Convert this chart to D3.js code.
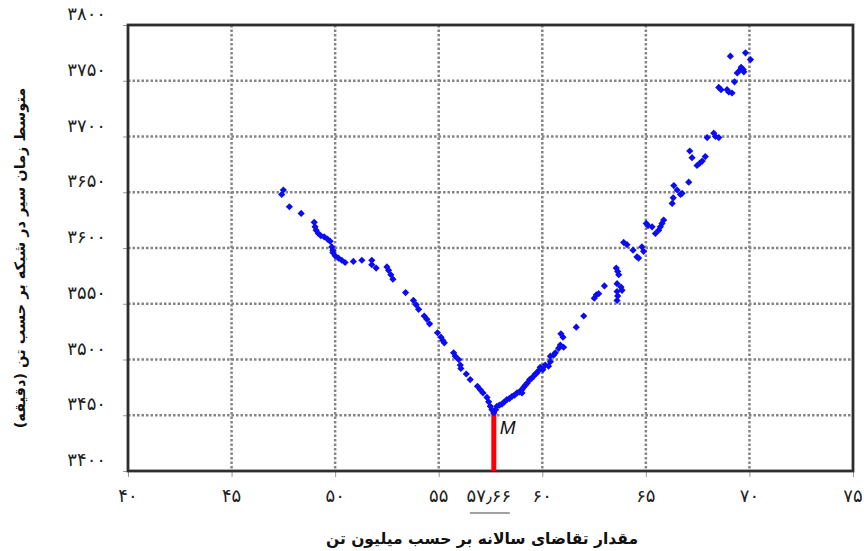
<!DOCTYPE html>
<html>
<head>
<meta charset="utf-8">
<script src="https://cdn.jsdelivr.net/npm/d3@7"></script>
<style>
  body { margin: 0; background: #fff; }
</style>
</head>
<body>
<svg id="chart"></svg>
<script>
// annual demand (million tons)
const demand = [
  47.42, 47.50, 47.79, 48.36, 48.99, 49.03, 49.08, 49.19, 49.31, 49.47, 49.63, 49.76, 49.84, 49.89, 49.89,
  50.00, 50.16, 50.32, 50.48, 50.88, 51.29, 51.77, 51.77, 51.98, 52.50, 52.58, 52.69, 52.79, 53.40, 53.78,
  53.91, 54.03, 54.30, 54.43, 54.56, 54.94, 55.11, 55.20, 55.27, 55.72, 55.80, 55.96, 56.04, 56.07, 56.33,
  56.52, 56.87, 57.00, 57.14, 57.33, 57.41, 57.49, 57.57, 57.66,
  57.75, 57.81, 57.93, 58.05, 58.17, 58.29, 58.41, 58.54, 58.66, 58.78, 58.90, 59.02, 59.02, 59.10, 59.18,
  59.28, 59.39, 59.48, 59.58, 59.66, 59.74, 59.82, 59.90, 60.03, 60.14, 60.30, 60.39, 60.39, 60.55, 60.63,
  60.79, 60.87, 61.03, 60.90, 61.00, 61.64, 62.00, 62.51, 62.61, 62.72, 63.00, 63.57, 63.64, 63.69, 63.61,
  63.61, 63.64, 63.61, 63.85, 63.80, 63.93, 64.09, 64.38, 64.57, 64.65, 64.81, 64.89, 65.02, 65.10, 65.30,
  65.46, 65.62, 65.78, 65.86, 65.70, 66.27, 66.32, 66.35, 66.51, 66.67, 66.75, 67.07, 67.12, 67.23, 67.47,
  67.60, 67.72, 67.87, 67.96, 68.28, 68.36, 68.52, 68.52, 68.63, 68.92, 69.00, 69.16, 69.28, 69.41, 69.57,
  69.60, 69.70, 69.73, 69.08, 69.81, 70.05
];
// mean travel time in network (minutes)
const travelTime = [
  3648, 3652, 3637, 3631, 3623, 3619, 3616, 3613, 3611, 3610, 3608, 3606, 3601, 3598, 3596,
  3593, 3591, 3589, 3587, 3588, 3589, 3589, 3585, 3582, 3583, 3580, 3576, 3572, 3560, 3553,
  3549, 3545, 3539, 3536, 3532, 3524, 3520, 3517, 3515, 3506, 3503, 3500, 3495, 3492, 3487,
  3482, 3476, 3473, 3470, 3466, 3462, 3458, 3455, 3452,
  3455, 3458, 3459, 3460, 3462, 3464, 3465, 3467, 3468, 3470, 3471, 3473, 3470, 3475, 3477,
  3479, 3482, 3483, 3485, 3487, 3488, 3490, 3493, 3491, 3495, 3494, 3498, 3503, 3504, 3506,
  3510, 3513, 3511, 3523, 3520, 3529, 3539, 3555, 3558, 3559, 3566, 3582, 3579, 3576, 3568,
  3561, 3557, 3553, 3562, 3565, 3605, 3603, 3598, 3592, 3591, 3601, 3597, 3622, 3620, 3619,
  3613, 3616, 3622, 3625, 3619, 3640, 3645, 3656, 3652, 3648, 3649, 3659, 3687, 3681, 3674,
  3676, 3678, 3682, 3699, 3703, 3700, 3699, 3744, 3742, 3742, 3740, 3739, 3749, 3757, 3760,
  3762, 3760, 3758, 3772, 3775, 3769
];

const xTicks = [40, 45, 50, 55, 60, 65, 70, 75];
const yTicks = [3400, 3450, 3500, 3550, 3600, 3650, 3700, 3750, 3800];
const optimum = { x: 57.66, y: 3452, label: "M", tickLabel: "۵۷٫۶۶" };
const xLabel = "مقدار تقاضای سالانه بر حسب میلیون تن";
const yLabel = "متوسط زمان سیر در شبکه بر حسب تن (دقیقه)";

const width = 864;
const height = 551;
const margin = { top: 25, right: 11, bottom: 80, left: 128 };
const chartWidth = width - margin.left - margin.right;
const chartHeight = height - margin.top - margin.bottom;

const fontFamily = "'DejaVu Sans', sans-serif";
const persian = d3.format("d");
const toFa = s => String(s).replace(/[0-9]/g, d => "۰۱۲۳۴۵۶۷۸۹"[d]);

const svg = d3.select("#chart")
    .attr("width", width)
    .attr("height", height);

const xScale = d3.scaleLinear()
    .domain([40, 75])
    .range([0, chartWidth]);

const yScale = d3.scaleLinear()
    .domain([3400, 3800])
    .range([chartHeight, 0]);

const chart = svg.append("g")
    .attr("transform", "translate(" + margin.left + "," + margin.top + ")");

// dotted grid
chart.append("g")
    .selectAll("line")
    .data(xTicks.slice(1, -1))
    .join("line")
    .attr("x1", d => xScale(d))
    .attr("x2", d => xScale(d))
    .attr("y1", 0)
    .attr("y2", chartHeight)
    .style("stroke", "#858585")
    .style("stroke-width", 2.5)
    .style("stroke-dasharray", "2.5,2");

chart.append("g")
    .selectAll("line")
    .data(yTicks.slice(1, -1))
    .join("line")
    .attr("x1", 0)
    .attr("x2", chartWidth)
    .attr("y1", d => yScale(d))
    .attr("y2", d => yScale(d))
    .style("stroke", "#858585")
    .style("stroke-width", 2.5)
    .style("stroke-dasharray", "2.5,2");

// axes (ticks only, labels placed by hand below)
const xAxis = d3.axisBottom(xScale).tickValues(xTicks).tickSize(6).tickFormat("");
const yAxis = d3.axisLeft(yScale).tickValues(yTicks).tickSize(5).tickFormat("");

chart.append("g")
    .attr("transform", "translate(0," + chartHeight + ")")
    .call(xAxis)
    .call(g => g.select(".domain").remove())
    .call(g => g.selectAll(".tick line").style("stroke", "#999"));

chart.append("g")
    .call(yAxis)
    .call(g => g.select(".domain").remove())
    .call(g => g.selectAll(".tick line").style("stroke", "#999"));

chart.append("g")
    .selectAll("text")
    .data(xTicks)
    .join("text")
    .attr("x", d => xScale(d))
    .attr("y", chartHeight + 31)
    .attr("text-anchor", "middle")
    .style("font-family", fontFamily)
    .style("font-size", "18px")
    .style("fill", "#222")
    .text(d => toFa(persian(d)));

chart.append("g")
    .selectAll("text")
    .data(yTicks)
    .join("text")
    .attr("x", -22)
    .attr("y", d => yScale(d) - 5)
    .attr("text-anchor", "end")
    .style("font-family", fontFamily)
    .style("font-size", "18px")
    .style("fill", "#222")
    .text(d => toFa(persian(d)));

// frame
chart.append("rect")
    .attr("width", chartWidth)
    .attr("height", chartHeight)
    .style("fill", "none")
    .style("stroke", "#2e2e2e")
    .style("stroke-width", 2.8);

// optimum marker
chart.append("line")
    .attr("x1", xScale(optimum.x))
    .attr("x2", xScale(optimum.x))
    .attr("y1", yScale(3400))
    .attr("y2", yScale(optimum.y))
    .style("stroke", "#f00")
    .style("stroke-width", 5);

const points = demand.map((d, i) => [d, travelTime[i]]);

chart.append("g")
    .selectAll("path")
    .data(points)
    .join("path")
    .attr("d", d3.symbol(d3.symbolSquare, 26))
    .attr("transform", d => "translate(" + xScale(d[0]) + "," + yScale(d[1]) + ") rotate(45)")
    .style("fill", "#0c0cf2");

chart.append("text")
    .attr("x", xScale(optimum.x) + 6)
    .attr("y", yScale(optimum.y) + 21)
    .style("font-family", "'Liberation Sans', Arial, sans-serif")
    .style("font-style", "italic")
    .style("font-size", "19px")
    .style("fill", "#111")
    .text(optimum.label);

chart.append("text")
    .attr("x", xScale(optimum.x) - 5)
    .attr("y", chartHeight + 31)
    .attr("text-anchor", "middle")
    .style("font-family", fontFamily)
    .style("font-size", "18px")
    .style("fill", "#222")
    .text(optimum.tickLabel);

chart.append("line")
    .attr("x1", xScale(optimum.x) - 24)
    .attr("x2", xScale(optimum.x) + 16)
    .attr("y1", chartHeight + 42)
    .attr("y2", chartHeight + 42)
    .style("stroke", "#444")
    .style("stroke-width", 1);

// axis titles
svg.append("text")
    .attr("x", 482)
    .attr("y", 544)
    .attr("text-anchor", "middle")
    .attr("direction", "rtl")
    .style("font-family", fontFamily)
    .style("font-weight", "bold")
    .style("font-size", "15.5px")
    .style("fill", "#111")
    .text(xLabel);

svg.append("text")
    .attr("transform", "translate(25,258) rotate(-90)")
    .attr("text-anchor", "middle")
    .attr("direction", "rtl")
    .style("font-family", fontFamily)
    .style("font-weight", "bold")
    .style("font-size", "14.5px")
    .style("fill", "#111")
    .text(yLabel);
</script>
</body>
</html>
